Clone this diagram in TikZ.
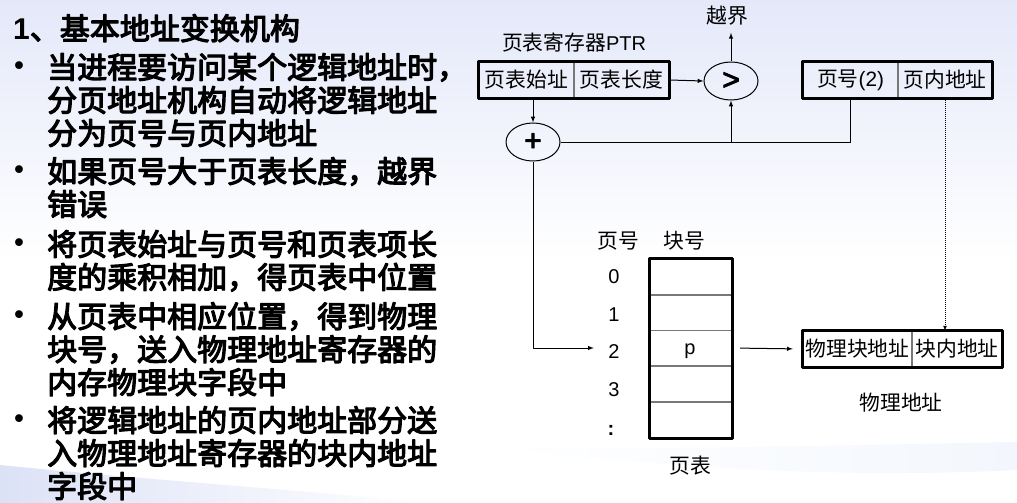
\documentclass[tikz,border=0pt]{standalone}
\usepackage{fontspec}
\setmainfont{Liberation Sans}
\newfontfamily\cjk{Noto Sans CJK SC}
\newfontfamily\cjkbold[FakeBold=4]{Noto Sans CJK SC}
\newfontfamily\opfont[FakeBold=3]{Liberation Sans}
\usetikzlibrary{calc,shapes.geometric}
\definecolor{paletop}{RGB}{228,232,249}
\definecolor{wedgeblue}{RGB}{220,226,246}
\definecolor{paleband}{RGB}{243,247,253}
\definecolor{cellgray}{RGB}{120,120,120}
\tikzset{
	cell/.style={inner sep=0pt,font=\fontsize{20.8}{21}\selectfont\cjk},
	plain/.style={inner sep=0pt,font=\fontsize{20}{20}\selectfont},
	oval/.style={ellipse,draw,line width=1pt,minimum width=54pt,minimum height=38pt,inner sep=0pt,font=\fontsize{30}{30}\selectfont\opfont},
	para/.style={anchor=north west,inner sep=0pt,align=left,font=\fontsize{30}{33}\selectfont\cjkbold},
	dot/.style={anchor=center,inner sep=0pt,font=\fontsize{27}{27}\selectfont\bfseries},
	arrow/.style={-latex,line width=1pt},
}
\begin{document}
\begin{tikzpicture}[x=1pt,y=-1pt,line join=round]
	\useasboundingbox (0,0) rectangle (1017,503);
	% background
	\shade[top color=paletop,bottom color=white] (0,0) rectangle (1017,260);
	\fill[white] (0,260) rectangle (1017,503);
	\shade[left color=wedgeblue,right color=white] (0,465) .. controls (150,480) and (300,490) .. (430,503) -- (0,503) -- cycle;
	\shade[left color=white,right color=paleband] (490,447) .. controls (700,450) and (850,445) .. (1017,442) -- (1017,470) .. controls (850,478) and (700,470) .. (490,447) -- cycle;
	% left text
	\node[para] (head) at (13,14) {{\bfseries\rmfamily 1}、基本地址变换机构};
	\node[para] (p1) at (47,53) {当进程要访问某个逻辑地址时，\\分页地址机构自动将逻辑地址\\分为页号与页内地址};
	\node[para] (p2) at (47,157) {如果页号大于页表长度，越界\\错误};
	\node[para] (p3) at (47,230) {将页表始址与页号和页表项长\\度的乘积相加，得页表中位置};
	\node[para] (p4) at (47,302) {从页表中相应位置，得到物理\\块号，送入物理地址寄存器的\\内存物理块字段中};
	\node[para] (p5) at (47,406) {将逻辑地址的页内地址部分送\\入物理地址寄存器的块内地址\\字段中};
	\foreach \y/\n in {68/1,172/2,245/3,317/4,421/5}
		\node[dot] (bul\n) at (19,\y) {•};
	% registers
	\node[cell,minimum width=95pt,minimum height=36pt] (base) at (526.5,80) {页表始址};
	\node[cell,minimum width=95pt,minimum height=36pt] (len) at (621.5,80) {页表长度};
	\node[cell,minimum width=95pt,minimum height=36pt] (pageno) at (850.5,80) {页号\rmfamily(2)};
	\node[cell,minimum width=94pt,minimum height=36pt] (offs) at (945,80) {页内地址};
	\node[cell,minimum width=109pt,minimum height=36pt] (physblk) at (857.5,349) {物理块地址};
	\node[cell,minimum width=90pt,minimum height=36pt] (physoff) at (957,349) {块内地址};
	\draw[cellgray,line width=1.5pt] (base.north east)--(base.south east) (pageno.north east)--(pageno.south east) (physblk.north east)--(physblk.south east);
	\draw[line width=3pt] (base.north west) rectangle (len.south east) (pageno.north west) rectangle (offs.south east) (physblk.north west) rectangle (physoff.south east);
	% ellipses
	\node[oval] (gt) at (731,81) {>};
	\node[oval] (plus) at (533,142) {+};
	% labels
	\node[cell] (over) at (727,16) {越界};
	\node[plain] (ptrname) at (574,43) {{\cjk\fontsize{20.8}{21}\selectfont 页表寄存器}PTR};
	\node[cell] (physname) at (901,403) {物理地址};
	\node[cell] (tabname) at (690,466) {页表};
	\node[cell] (hno) at (618,241) {页号};
	\node[cell] (hblk) at (684,241) {块号};
	% page table
	\foreach \n/\y in {0/277,1/312.5,2/348,3/384,4/420.5}
		\node[plain,minimum width=82pt,minimum height=36pt] (row\n) at (691,\y) {};
	\node[plain] (pval) at (690,351) {p};
	\draw[cellgray,line width=1.5pt] (row0.south west)--(row0.south east) (row1.south west)--(row1.south east) (row2.south west)--(row2.south east) (row3.south west)--(row3.south east);
	\draw[line width=3pt] (row0.north west) rectangle (row4.south east);
	\foreach \t/\y/\n in {0/277/a,1/315/b,2/352/c,3/390/d}
		\node[plain,minimum width=40pt] (no\n) at (614,\y) {\t};
	\node[plain,minimum width=40pt,font=\fontsize{20}{20}\selectfont\bfseries] (noe) at (611,430) {:};
	\coordinate (entry) at (noc.west |- row2.west);
	\coordinate (outtop) at ($(over.south)+(4,7)$);
	% connectors
	\draw[arrow] (len.east)--(gt.west);
	\draw[arrow] (gt.north)--(gt.north |- outtop);
	\draw[arrow] (plus.north |- base.south)--(plus.north);
	\draw[line width=1pt] (plus.east) -| (pageno.south);
	\draw[arrow] (gt.south |- plus.east)--(gt.south);
	\draw[arrow] (plus.south) |- (entry);
	\draw[arrow,shorten <=8pt,shorten >=10pt] (row2.east)--(physblk.west);
	\draw[arrow,densely dotted,line width=.7pt] (offs.south)--(offs.south |- physoff.north);
\end{tikzpicture}
\end{document}
